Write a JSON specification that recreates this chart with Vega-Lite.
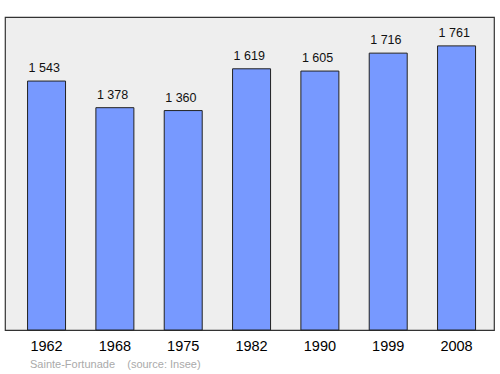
{
  "$schema": "https://vega.github.io/schema/vega-lite/v6.json",
  "width": 489,
  "height": 313,
  "autosize": "none",
  "padding": {"left": 5, "top": 17, "right": 6, "bottom": 44},
  "background": "white",
  "config": {
    "view": {"fill": "#eeeeee", "stroke": "#333333", "strokeWidth": 1.2},
    "font": "Liberation Sans",
    "locale": {"number": {"decimal": ".", "thousands": " ", "grouping": [3], "currency": ["", ""]}}
  },
  "title": {
    "text": "Sainte-Fortunade \u00a0\u00a0 (source: Insee)",
    "orient": "bottom",
    "anchor": "start",
    "dx": 25,
    "offset": 6,
    "fontSize": 11,
    "fontWeight": "normal",
    "color": "#aaaaaa",
    "font": "Liberation Sans"
  },
  "data": {
    "values": [
      {"year": "1962", "pop": 1543},
      {"year": "1968", "pop": 1378},
      {"year": "1975", "pop": 1360},
      {"year": "1982", "pop": 1619},
      {"year": "1990", "pop": 1605},
      {"year": "1999", "pop": 1716},
      {"year": "2008", "pop": 1761}
    ]
  },
  "encoding": {
    "x": {
      "field": "year",
      "type": "nominal",
      "sort": null,
      "scale": {"paddingInner": 0.444, "paddingOuter": 0.3, "align": 0.55},
      "axis": {
        "title": null,
        "domain": false,
        "ticks": false,
        "labelAngle": 0,
        "labelFontSize": 14.5,
        "labelColor": "#000000",
        "labelPadding": 9,
        "labelFont": "Liberation Sans"
      }
    },
    "y": {
      "field": "pop",
      "type": "quantitative",
      "scale": {"domain": [0, 1940], "nice": false},
      "axis": null
    }
  },
  "layer": [
    {
      "mark": {"type": "bar", "fill": "#7799ff", "stroke": "#222222", "strokeWidth": 1}
    },
    {
      "mark": {"type": "text", "align": "left", "baseline": "alphabetic", "dy": -9, "dx": 1, "fontSize": 12.5, "color": "#111111"},
      "encoding": {
        "x": {"field": "year", "type": "nominal", "sort": null, "bandPosition": 0},
        "text": {"field": "pop", "type": "quantitative", "format": ",d", "formatType": "number"}
      }
    }
  ]
}
